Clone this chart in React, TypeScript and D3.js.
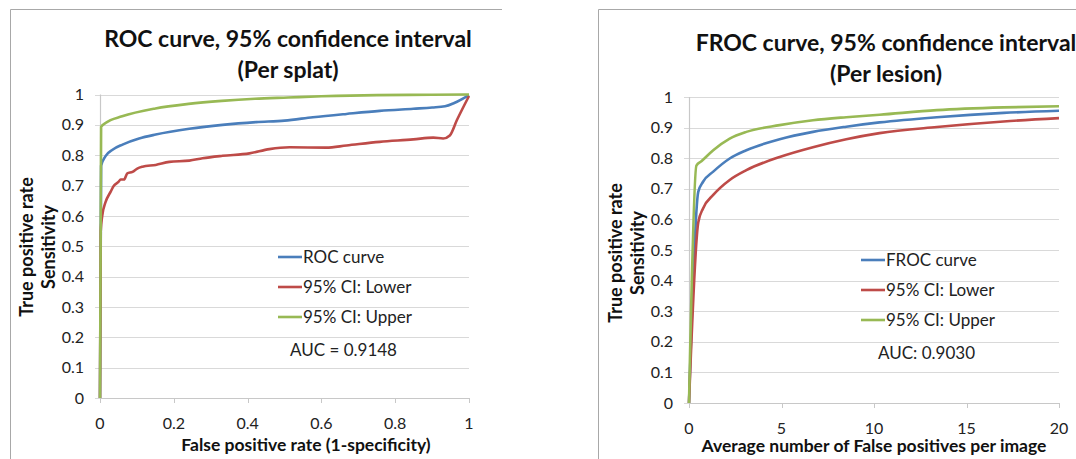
import React from "react";
import * as d3 from "d3";

type Pt = [number, number];

// ---- Left chart data (ROC, per splat) ----
const rocCurve: Pt[] = [[0,0],[0.003,0.765],[0.015,0.797],[0.034,0.818],[0.061,0.835],[0.106,0.855],[0.151,0.868],[0.242,0.887],[0.332,0.9],[0.423,0.909],[0.5,0.914],[0.577,0.925],[0.668,0.936],[0.758,0.946],[0.849,0.953],[0.9,0.957],[0.935,0.961],[0.96,0.972],[1,0.998]];
const rocLower: Pt[] = [[0,0],[0.002,0.55],[0.006,0.6],[0.015,0.645],[0.029,0.68],[0.038,0.7],[0.05,0.712],[0.056,0.72],[0.065,0.72],[0.074,0.74],[0.088,0.745],[0.101,0.756],[0.115,0.762],[0.151,0.768],[0.188,0.778],[0.242,0.782],[0.278,0.79],[0.332,0.798],[0.405,0.806],[0.459,0.82],[0.514,0.826],[0.613,0.825],[0.668,0.832],[0.758,0.844],[0.849,0.852],[0.903,0.858],[0.93,0.855],[0.948,0.865],[0.967,0.915],[1,0.995]];
const rocUpper: Pt[] = [[0,0],[0.003,0.893],[0.015,0.906],[0.06,0.928],[0.15,0.954],[0.24,0.969],[0.33,0.979],[0.42,0.986],[0.51,0.99],[0.6,0.994],[0.75,0.998],[0.9,0.999],[1,1]];
const rocXTicks = [0, 0.2, 0.4, 0.6, 0.8, 1];
const rocLegend = ["ROC curve", "95% CI: Lower", "95% CI: Upper"];

// ---- Right chart data (FROC, per lesion) ----
const frocCurve: Pt[] = [[0,0],[0.5,0.69],[0.76,0.723],[1.31,0.756],[2.2,0.799],[3.1,0.826],[4.9,0.862],[6.7,0.886],[8.5,0.903],[10.3,0.917],[13.4,0.934],[17,0.948],[20,0.955]];
const frocLower: Pt[] = [[0,0],[0.5,0.59],[0.76,0.636],[1.31,0.68],[2.2,0.729],[3.1,0.761],[4.9,0.804],[6.7,0.836],[8.5,0.862],[10.3,0.882],[13.4,0.902],[17,0.92],[20,0.931]];
const frocUpper: Pt[] = [[0,0],[0.4,0.776],[0.67,0.79],[1.31,0.826],[2.2,0.864],[3.1,0.886],[4.9,0.908],[6.7,0.924],[8.5,0.934],[10.3,0.942],[13.4,0.957],[17,0.966],[20,0.97]];
const frocXTicks = [0, 5, 10, 15, 20];
const frocLegend = ["FROC curve", "95% CI: Lower", "95% CI: Upper"];

const yTicks = [0, 0.1, 0.2, 0.3, 0.4, 0.5, 0.6, 0.7, 0.8, 0.9, 1];
const seriesColors = ["#4a7ebb", "#be4b48", "#98b954"];

const FONT = "Lato, 'Open Sans', sans-serif";

interface PanelProps {
  frame: { x: number; y: number; w: number; h: number };
  plot: { left: number; right: number; top: number; bottom: number };
  xMax: number;
  xTicks: number[];
  fmtX: (v: number) => string;
  series: Pt[][];
  legend: string[];
  auc: string;
  title1: string;
  title2: string;
  titleX: number;
  titleY: number;
  xTitle: string;
  xTitleX: number;
  xTitleY: number;
  yTitleX: number[];
  yTitleY: number;
  legendX: number;
  legendY: number;
  aucX: number;
  aucY: number;
}

function Panel(p: PanelProps) {
  const x = d3.scaleLinear().domain([0, p.xMax]).range([p.plot.left, p.plot.right]);
  const y = d3.scaleLinear().domain([0, 1]).range([p.plot.bottom, p.plot.top]);
  const line = d3
    .line<Pt>()
    .x((d) => x(d[0]))
    .y((d) => y(d[1]))
    .curve(d3.curveMonotoneX);
  return (
    <g>
      <path
        d={`M${p.frame.x + 0.5},${p.frame.y + p.frame.h}V${p.frame.y + 0.5}H${p.frame.x + p.frame.w}`}
        fill="none"
        stroke="#a8a8a8"
        strokeWidth={1}
      />
      {yTicks.map((t) => (
        <g key={"g" + t}>
          <line x1={p.plot.left - 5} x2={p.plot.right} y1={Math.round(y(t)) + 0.5} y2={Math.round(y(t)) + 0.5} stroke="#d9d9d9" strokeWidth={1.2} />
          <text x={p.plot.left - 16} y={y(t)} dy="0.35em" textAnchor="end" fontSize={16} fill="#222">
            {t === 0 || t === 1 ? String(t) : t.toFixed(1)}
          </text>
        </g>
      ))}
      <line x1={p.plot.left + 0.5} x2={p.plot.left + 0.5} y1={p.plot.top} y2={p.plot.bottom} stroke="#c8c8c8" strokeWidth={1.2} />
      <line x1={p.plot.left} x2={p.plot.right} y1={Math.round(p.plot.bottom) + 0.5} y2={Math.round(p.plot.bottom) + 0.5} stroke="#c8c8c8" strokeWidth={1.2} />
      {p.xTicks.map((t) => (
        <g key={"x" + t}>
          <line x1={Math.round(x(t)) + 0.5} x2={Math.round(x(t)) + 0.5} y1={p.plot.bottom} y2={p.plot.bottom + 5} stroke="#c8c8c8" />
          <text x={x(t)} y={p.plot.bottom + 25} dy="0.35em" textAnchor="middle" fontSize={16} fill="#222">
            {p.fmtX(t)}
          </text>
        </g>
      ))}
      {p.series.map((s, i) => (
        <path key={"s" + i} d={line(s) || ""} fill="none" stroke={seriesColors[i]} strokeWidth={2.6} strokeLinejoin="round" />
      ))}
      {p.legend.map((l, i) => (
        <g key={"l" + i}>
          <line x1={p.legendX} x2={p.legendX + 24} y1={p.legendY + i * 30} y2={p.legendY + i * 30} stroke={seriesColors[i]} strokeWidth={2.6} />
          <text x={p.legendX + 25} y={p.legendY + i * 30} dy="0.35em" fontSize={17} fill="#222">
            {l}
          </text>
        </g>
      ))}
      <text x={p.aucX} y={p.aucY} dy="0.35em" fontSize={17} fill="#222">
        {p.auc}
      </text>
      <text x={p.titleX} y={p.titleY} dy="0.35em" textAnchor="middle" fontSize={23} fontWeight="bold" fill="#111">
        {p.title1}
      </text>
      <text x={p.titleX} y={p.titleY + 31} dy="0.35em" textAnchor="middle" fontSize={23} fontWeight="bold" fill="#111">
        {p.title2}
      </text>
      <text x={p.xTitleX} y={p.xTitleY} dy="0.35em" textAnchor="middle" fontSize={17.5} fontWeight="bold" fill="#111">
        {p.xTitle}
      </text>
      <text transform={`translate(${p.yTitleX[0]},${p.yTitleY}) rotate(-90)`} dy="0.35em" textAnchor="middle" fontSize={18} fontWeight="bold" fill="#111">
        True positive rate
      </text>
      <text transform={`translate(${p.yTitleX[1]},${p.yTitleY}) rotate(-90)`} dy="0.35em" textAnchor="middle" fontSize={18} fontWeight="bold" fill="#111">
        Sensitivity
      </text>
    </g>
  );
}

export default function App() {
  return (
    <svg
      width={1076}
      height={459}
      style={{ position: "absolute", left: 0, top: 0, fontFamily: FONT, background: "#fff" }}
    >
      <rect width={1076} height={459} fill="#fff" />
      <Panel
        frame={{ x: 10, y: 9, w: 492, h: 460 }}
        plot={{ left: 100, right: 469, top: 94.5, bottom: 398 }}
        xMax={1}
        xTicks={rocXTicks}
        fmtX={(v) => (v === 0 || v === 1 ? String(v) : v.toFixed(1))}
        series={[rocCurve, rocLower, rocUpper]}
        legend={rocLegend}
        auc="AUC = 0.9148"
        title1="ROC curve, 95% confidence interval"
        title2="(Per splat)"
        titleX={288}
        titleY={39}
        xTitle="False positive rate (1-specificity)"
        xTitleX={306}
        xTitleY={445}
        yTitleX={[27, 49]}
        yTitleY={247}
        legendX={278}
        legendY={257}
        aucX={290}
        aucY={350}
      />
      <Panel
        frame={{ x: 598, y: 9, w: 480, h: 460 }}
        plot={{ left: 689, right: 1059, top: 97, bottom: 403 }}
        xMax={20}
        xTicks={frocXTicks}
        fmtX={(v) => String(v)}
        series={[frocCurve, frocLower, frocUpper]}
        legend={frocLegend}
        auc="AUC: 0.9030"
        title1="FROC curve, 95% confidence interval"
        title2="(Per lesion)"
        titleX={886}
        titleY={43}
        xTitle="Average number of False positives per image"
        xTitleX={874}
        xTitleY={446}
        yTitleX={[616, 638]}
        yTitleY={253}
        legendX={861}
        legendY={260}
        aucX={878}
        aucY={353}
      />
    </svg>
  );
}
